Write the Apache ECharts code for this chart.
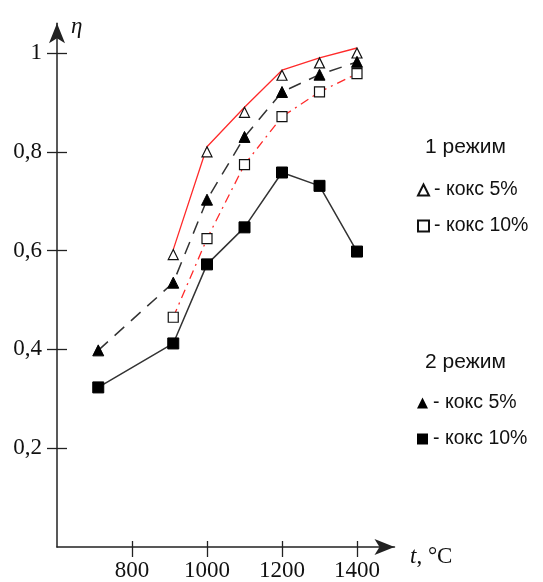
<!DOCTYPE html>
<html><head><meta charset="utf-8">
<script src="https://cdn.jsdelivr.net/npm/echarts@6/dist/echarts.min.js"></script>
<style>html,body{margin:0;padding:0;background:#fff}#c{width:543px;height:582px}</style>
</head><body><div id="c"></div>
<script>
// Data
const xTicks = [800, 1000, 1200, 1400];
const yTicks = [0.2, 0.4, 0.6, 0.8, 1];
const t1 = [910, 1000, 1100, 1200, 1300, 1400];
const t2 = [710, 910, 1000, 1100, 1200, 1300, 1400];
const mode1_coke5 = [0.602, 0.81, 0.89, 0.965, 0.99, 1.01];
const mode1_coke10 = [0.465, 0.624, 0.774, 0.871, 0.921, 0.958];
const mode2_coke5 = [0.398, 0.535, 0.703, 0.83, 0.921, 0.956, 0.982];
const mode2_coke10 = [0.323, 0.412, 0.572, 0.647, 0.758, 0.731, 0.598];
const names = ['1 режим, кокс 5%', '1 режим, кокс 10%', '2 режим, кокс 5%', '2 режим, кокс 10%'];

const zip = (xs, ys) => xs.map((x, i) => [x, ys[i]]);
const serif = '"Liberation Serif", "DejaVu Serif", serif';
const sans = '"Liberation Sans", Arial, sans-serif';
const fmtY = v => String(v).replace('.', ',');

const chart = echarts.init(document.getElementById('c'));
chart.setOption({
  animation: false,
  backgroundColor: '#fff',
  grid: { left: 57, right: 148.5, top: 23.3, bottom: 34, containLabel: false },
  xAxis: [{
    type: 'value', min: 600, max: 1500, interval: 200,
    axisLine: { show: true, lineStyle: { color: '#222', width: 1.5 }, symbol: ['none', 'arrow'], symbolSize: [12, 20], symbolOffset: [0, 0] },
    axisTick: { show: true, length: 10, customValues: xTicks, lineStyle: { color: '#222', width: 1.3 } },
    axisLabel: { margin: 12, fontFamily: serif, fontSize: 23, color: '#111', customValues: xTicks, formatter: v => String(v) },
    splitLine: { show: false }
  }, {
    type: 'value', min: 600, max: 1500, interval: 200, position: 'bottom',
    axisLine: { show: false },
    axisTick: { show: true, inside: true, length: 6, customValues: xTicks, lineStyle: { color: '#222', width: 1.3 } },
    axisLabel: { show: false }, splitLine: { show: false }
  }],
  yAxis: [{
    type: 'value', min: 0, max: 1.06, interval: 0.2,
    axisLine: { show: true, lineStyle: { color: '#222', width: 1.5 }, symbol: ['none', 'arrow'], symbolSize: [12, 20], symbolOffset: [0, 0] },
    axisTick: { show: true, length: 10, customValues: yTicks, lineStyle: { color: '#222', width: 1.3 } },
    axisLabel: { margin: 15, fontFamily: serif, fontSize: 23, color: '#111', customValues: yTicks, formatter: fmtY },
    splitLine: { show: false }
  }, {
    type: 'value', min: 0, max: 1.06, interval: 0.2, position: 'left',
    axisLine: { show: false },
    axisTick: { show: true, inside: true, length: 10, customValues: yTicks, lineStyle: { color: '#222', width: 1.3 } },
    axisLabel: { show: false }, splitLine: { show: false }
  }],
  legend: [{
    left: 412, top: 175, orient: 'vertical', itemGap: 16, itemWidth: 11, itemHeight: 11,
    data: [{ name: names[0], icon: 'triangle' }, { name: names[1], icon: 'rect' }],
    formatter: n => '- кокс ' + n.split('кокс ')[1],
    textStyle: { fontFamily: sans, fontSize: 19.5, color: '#111' }
  }, {
    left: 412, top: 388, orient: 'vertical', itemGap: 16, itemWidth: 11, itemHeight: 11,
    data: [{ name: names[2], icon: 'triangle' }, { name: names[3], icon: 'rect' }],
    formatter: n => '- кокс ' + n.split('кокс ')[1],
    textStyle: { fontFamily: sans, fontSize: 19.5, color: '#111' }
  }],
  graphic: [
    { type: 'text', left: 425, top: 137, style: { text: '1 режим', font: '21px ' + sans, fill: '#111' } },
    { type: 'text', left: 425, top: 352, style: { text: '2 режим', font: '21px ' + sans, fill: '#111' } },
    { type: 'text', left: 71, top: 15, style: { text: 'η', font: 'italic 23px ' + serif, fill: '#111' } },
    { type: 'text', left: 410, top: 545, style: { rich: { a: { font: 'italic 23px ' + serif, fill: '#111' }, b: { font: '23px ' + serif, fill: '#111' } }, text: '{a|t}{b|, °C}' } }
  ],
  series: [
    { name: names[0], type: 'line', data: zip(t1, mode1_coke5), symbol: 'triangle', symbolSize: 10, symbolOffset: [0, 5],
      lineStyle: { color: '#ff2a2a', width: 1.3 }, itemStyle: { color: '#fff', borderColor: '#111', borderWidth: 1.2 }, z: 3 },
    { name: names[1], type: 'line', data: zip(t1, mode1_coke10), symbol: 'rect', symbolSize: 10,
      lineStyle: { color: '#ff2a2a', width: 1.3, type: [9, 5, 2, 5] }, itemStyle: { color: '#fff', borderColor: '#111', borderWidth: 1.2 }, z: 3 },
    { name: names[2], type: 'line', data: zip(t2, mode2_coke5), symbol: 'triangle', symbolSize: 11,
      lineStyle: { color: '#333', width: 1.5, type: [13, 9] }, itemStyle: { color: '#000', borderColor: '#000' }, z: 4 },
    { name: names[3], type: 'line', data: zip(t2, mode2_coke10), symbol: 'rect', symbolSize: 11,
      lineStyle: { color: '#333', width: 1.5 }, itemStyle: { color: '#000', borderColor: '#000' }, z: 4 }
  ]
});
</script></body></html>
